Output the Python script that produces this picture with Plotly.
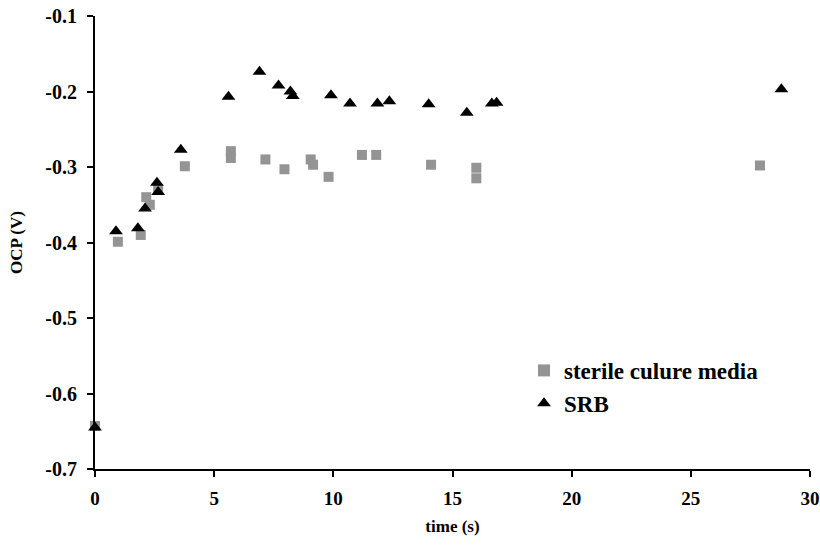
import plotly.graph_objects as go

sterile_x = [0.0, 0.96, 1.92, 2.15, 2.3, 2.65, 3.77, 5.7, 5.7, 7.15, 7.95, 9.05, 9.15, 9.8, 11.2, 11.8, 14.1, 16.0, 16.0, 27.9]
sterile_y = [-0.643, -0.399, -0.39, -0.34, -0.35, -0.33, -0.299, -0.279, -0.288, -0.29, -0.303, -0.29, -0.297, -0.313, -0.284, -0.284, -0.297, -0.301, -0.315, -0.298]

srb_x = [0.0, 0.88, 1.8, 2.1, 2.6, 2.65, 3.6, 5.6, 6.9, 7.7, 8.2, 8.3, 9.9, 10.7, 11.85, 12.35, 14.0, 15.6, 16.65, 16.85, 28.8]
srb_y = [-0.645, -0.385, -0.381, -0.355, -0.321, -0.333, -0.277, -0.207, -0.174, -0.192, -0.2, -0.206, -0.205, -0.216, -0.216, -0.213, -0.217, -0.228, -0.216, -0.215, -0.197]

x_ticks = [0, 5, 10, 15, 20, 25, 30]
y_ticks = [-0.7, -0.6, -0.5, -0.4, -0.3, -0.2, -0.1]

font_family = "Liberation Serif"

fig = go.Figure()
fig.add_trace(go.Scatter(
    x=sterile_x, y=sterile_y, mode="markers", name="<b>sterile culure media</b>",
    marker=dict(symbol="square", size=10, color="#949494", line=dict(width=0)),
    cliponaxis=False,
))
fig.add_trace(go.Scatter(
    x=srb_x, y=srb_y, mode="markers", name="<b>SRB</b>",
    marker=dict(symbol="triangle-up", size=12, color="black", line=dict(width=0)),
    cliponaxis=False,
))

fig.update_layout(
    width=820, height=550,
    margin=dict(l=95, r=10, t=16, b=81),
    paper_bgcolor="white", plot_bgcolor="white",
    font=dict(family=font_family, size=16, color="black"),
    showlegend=True,
    legend=dict(x=0.6, y=0.265, xanchor="left", yanchor="top",
                bgcolor="rgba(0,0,0,0)", font=dict(family=font_family, size=23, color="black"),
                itemsizing="constant"),
    xaxis=dict(
        range=[0, 30], tickvals=x_ticks, ticktext=[f"<b>{v}</b>" for v in x_ticks],
        showgrid=False, zeroline=False, showline=True, linecolor="black", linewidth=2,
        ticks="outside", ticklen=6, tickwidth=2, tickcolor="black",
        title=dict(text="<b>time (s)</b>", font=dict(size=17), standoff=12),
        tickfont=dict(size=19), automargin=False, ticklabelstandoff=5,
    ),
    yaxis=dict(
        range=[-0.7, -0.1], tickvals=y_ticks, ticktext=[f"<b>{v:.1f}</b>" for v in y_ticks],
        showgrid=False, zeroline=False, showline=True, linecolor="black", linewidth=2,
        ticks="outside", ticklen=6, tickwidth=2, tickcolor="black",
        title=dict(text="<b>OCP (V)</b>", font=dict(size=17), standoff=18),
        tickfont=dict(size=20), automargin=False, ticklabelstandoff=6,
    ),
)

fig.write_html("out.html", config={"displayModeBar": False},
               post_script="document.body.style.margin='0';")
